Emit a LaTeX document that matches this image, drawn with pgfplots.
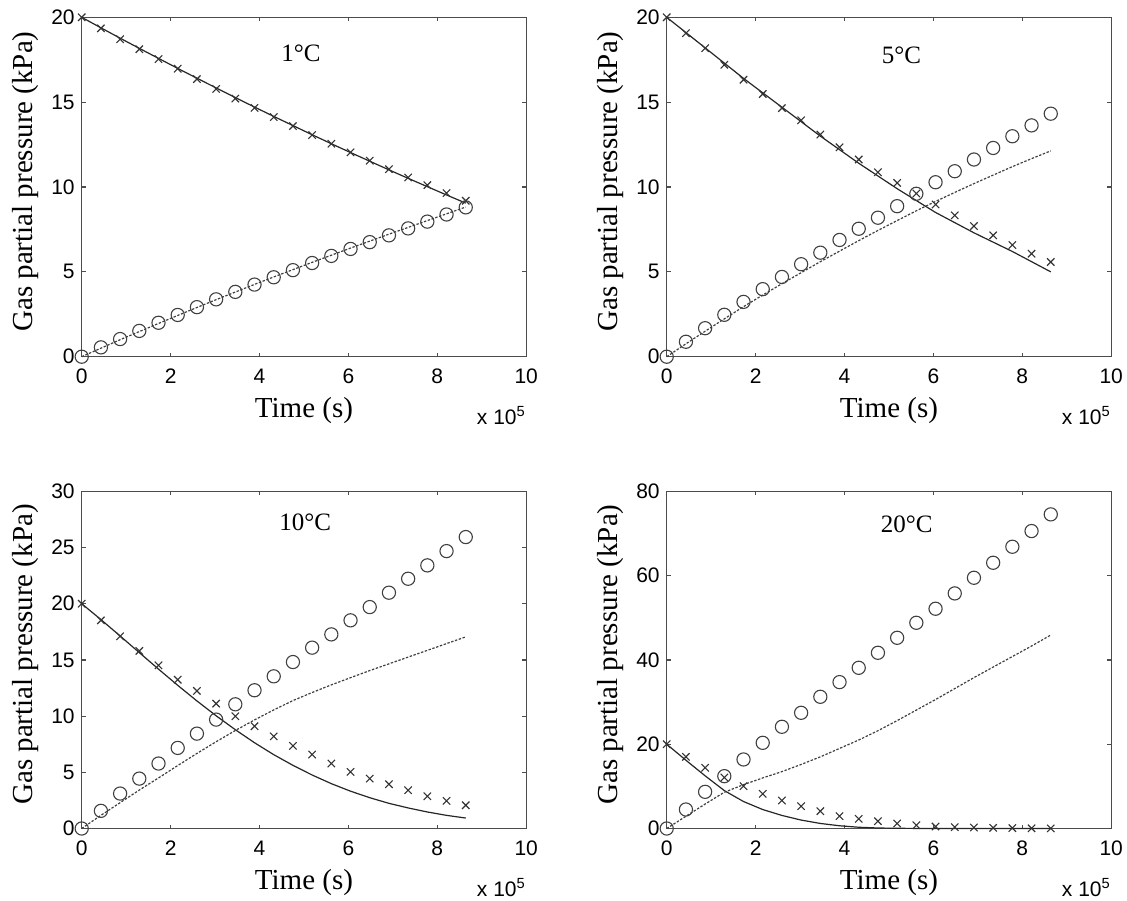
\documentclass[border=0pt]{standalone}
\usepackage{fontspec}
\setmainfont{Liberation Serif}
\newfontfamily\ticksf{Liberation Sans}
\usepackage{pgfplots}
\pgfplotsset{compat=1.18}
\usepackage{pgfplotstable}

% columns: time (x 10^5 s), measured X, measured O, model solid, model dashed
\pgfplotstableread{
t xm ci sol das
0     20    0     20    0
0.432 19.35 0.55  19.38 0.50
0.864 18.71 1.04  18.77 1.00
1.296 18.12 1.52  18.17 1.48
1.728 17.54 2.00  17.58 1.96
2.160 16.97 2.46  16.99 2.43
2.592 16.36 2.92  16.41 2.90
3.024 15.78 3.38  15.84 3.36
3.456 15.21 3.82  15.27 3.81
3.888 14.66 4.25  14.71 4.26
4.320 14.12 4.68  14.16 4.70
4.752 13.59 5.10  13.62 5.13
5.184 13.06 5.52  13.08 5.56
5.616 12.55 5.94  12.55 5.98
6.048 12.04 6.35  12.03 6.40
6.480 11.55 6.75  11.52 6.81
6.912 11.05 7.15  11.01 7.22
7.344 10.56 7.56  10.51 7.62
7.776 10.11 7.96  10.02 8.02
8.208 9.64  8.38  9.53  8.42
8.640 9.19  8.80  9.05  8.82
}\tabA
\pgfplotstableread{
t xm ci sol das
0     20    0     20    0
0.432 19.06 0.88  19.10 0.76
0.864 18.18 1.68  18.20 1.50
1.296 17.20 2.47  17.30 2.23
1.728 16.32 3.23  16.40 2.95
2.160 15.48 3.98  15.55 3.63
2.592 14.65 4.70  14.70 4.30
3.024 13.93 5.45  13.85 4.95
3.456 13.09 6.13  13.00 5.60
3.888 12.34 6.88  12.20 6.22
4.320 11.62 7.54  11.40 6.84
4.752 10.87 8.19  10.65 7.44
5.184 10.24 8.87  9.90  8.02
5.616 9.62  9.60  9.20  8.60
6.048 8.97  10.28 8.50  9.15
6.480 8.33  10.93 7.90  9.68
6.912 7.70  11.62 7.30  10.20
7.344 7.15  12.30 6.75  10.70
7.776 6.58  12.99 6.20  11.20
8.208 6.07  13.63 5.60  11.67
8.640 5.58  14.32 5.00  12.13
}\tabB
\pgfplotstableread{
t xm ci sol das
0     20    0     20    0
0.432 18.52 1.57  18.59 1.17
0.864 17.10 3.11  17.13 2.30
1.296 15.80 4.44  15.65 3.42
1.728 14.52 5.78  14.18 4.50
2.160 13.24 7.17  12.74 5.60
2.592 12.24 8.44  11.35 6.68
3.024 11.11 9.69  10.03 7.72
3.456 9.99  11.05 8.79  8.72
3.888 9.10  12.30 7.63  9.66
4.320 8.20  13.54 6.57  10.55
4.752 7.35  14.81 5.62  11.38
5.184 6.58  16.09 4.76  12.10
5.616 5.78  17.27 3.99  12.78
6.048 5.04  18.52 3.32  13.42
6.480 4.44  19.70 2.74  14.05
6.912 3.94  20.98 2.24  14.65
7.344 3.41  22.22 1.83  15.25
7.776 2.87  23.41 1.47  15.85
8.208 2.46  24.68 1.17  16.45
8.640 2.07  25.93 0.93  17.05
}\tabC
\pgfplotstableread{
t xm ci sol das
0     20    0     20    0
0.432 17.00 4.51  16.20 2.9
0.864 14.40 8.70  12.50 5.8
1.296 12.10 12.42 9.00  8.6
1.728 10.05 16.38 6.40  10.4
2.160 8.23  20.33 4.50  12.0
2.592 6.65  24.13 3.10  13.5
3.024 5.30  27.45 2.00  15.2
3.456 4.11  31.25 1.20  17.0
3.888 2.93  34.73 0.65  19.0
4.320 2.29  38.13 0.30  21.0
4.752 1.74  41.69 0.12  23.2
5.184 1.19  45.25 0.05  25.6
5.616 0.79  48.81 0.02  28.1
6.048 0.47  52.14 0.01  30.6
6.480 0.32  55.78 0     33.2
6.912 0.24  59.49 0     35.8
7.344 0.16  63.05 0     38.3
7.776 0.10  66.85 0     40.8
8.208 0.05  70.57 0     43.3
8.640 0.03  74.53 0     45.9
}\tabD

\pgfplotsset{
  gasax/.style={
    scale only axis, width=222.25pt, anchor=south west,
    xmin=0, xmax=10, xtick={0,2,4,6,8,10}, ymin=0,
    axis line style={black!70, line width=0.6pt},
    tick style={black!70, line width=0.6pt},
    tick align=inside, major tick length=2pt,
    tick label style={font=\ticksf\fontsize{10.5}{12}\selectfont},
    /pgf/number format/assume math mode=true,
    xticklabel style={yshift=-2.5pt},
    xlabel={Time (s)},
    ylabel={Gas partial pressure (kPa)},
    label style={font=\fontsize{14.5}{17}\selectfont},
    xlabel style={at={(axis description cs:0.5,0)}, anchor=base, yshift=-30.5pt},
    ylabel style={at={(axis description cs:-0.11,0.516)}, anchor=base},
    clip=false,
  },
  solidl/.style={no marks, black!85, line width=0.6pt},
  dashl/.style={no marks, black!75, line width=0.6pt, dash pattern=on 1.2pt off 0.8pt},
  crossm/.style={only marks, mark=x, mark size=2.6pt, mark options={black!80, line width=0.55pt}},
  circm/.style={only marks, mark=o, mark size=3.3pt, mark options={black!75, line width=0.55pt}},
}
\newcommand{\xpow}{\node[anchor=base east, inner sep=0pt, yshift=-34pt,
  font=\ticksf\fontsize{10.5}{12}\selectfont] at (rel axis cs:1,0) {x 10\textsuperscript{5}};}

\begin{document}
\begin{tikzpicture}
\path[use as bounding box] (0,0) rectangle (563.5pt,450pt);

\begin{axis}[gasax, at={(40.85pt,271.65pt)}, height=169.7pt,
  ymax=20, ytick={0,5,10,15,20}]
\addplot[solidl] table[x=t, y=sol] {\tabA};
\addplot[dashl] table[x=t, y=das] {\tabA};
\addplot[crossm] table[x=t, y=xm] {\tabA};
\addplot[circm] table[x=t, y=ci] {\tabA};
\node[font=\fontsize{12.5}{15}\selectfont] at (rel axis cs:0.493,0.894) {1°C};
\xpow
\end{axis}

\begin{axis}[gasax, at={(333.35pt,271.65pt)}, height=169.7pt,
  ymax=20, ytick={0,5,10,15,20}]
\addplot[solidl] table[x=t, y=sol] {\tabB};
\addplot[dashl] table[x=t, y=das] {\tabB};
\addplot[crossm] table[x=t, y=xm] {\tabB};
\addplot[circm] table[x=t, y=ci] {\tabB};
\node[font=\fontsize{12.5}{15}\selectfont] at (rel axis cs:0.528,0.888) {5°C};
\xpow
\end{axis}

\begin{axis}[gasax, at={(40.85pt,35.75pt)}, height=168.6pt,
  ymax=30, ytick={0,5,10,15,20,25,30}]
\addplot[solidl] table[x=t, y=sol] {\tabC};
\addplot[dashl] table[x=t, y=das] {\tabC};
\addplot[crossm] table[x=t, y=xm] {\tabC};
\addplot[circm] table[x=t, y=ci] {\tabC};
\node[font=\fontsize{12.5}{15}\selectfont] at (rel axis cs:0.503,0.908) {10°C};
\xpow
\end{axis}

\begin{axis}[gasax, at={(333.35pt,35.75pt)}, height=168.6pt,
  ymax=80, ytick={0,20,40,60,80}]
\addplot[solidl] table[x=t, y=sol] {\tabD};
\addplot[dashl] table[x=t, y=das] {\tabD};
\addplot[crossm] table[x=t, y=xm] {\tabD};
\addplot[circm] table[x=t, y=ci] {\tabD};
\node[font=\fontsize{12.5}{15}\selectfont] at (rel axis cs:0.54,0.902) {20°C};
\xpow
\end{axis}
\end{tikzpicture}
\end{document}
